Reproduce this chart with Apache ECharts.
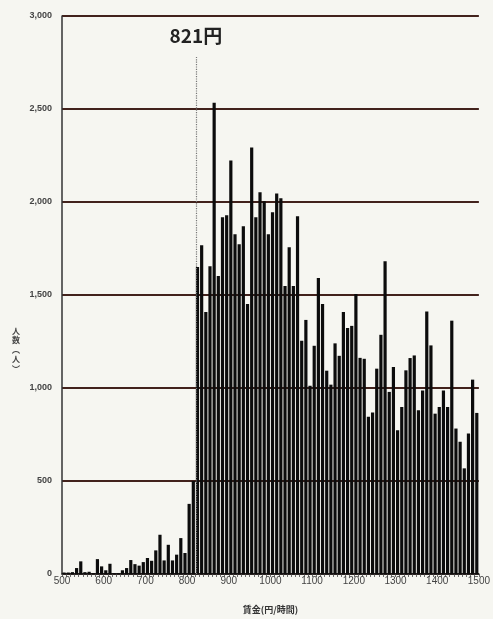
<!DOCTYPE html>
<html>
<head>
<meta charset="utf-8">
<script src="https://cdn.jsdelivr.net/npm/echarts@6/dist/echarts.min.js"></script>
<style>
html,body{margin:0;padding:0;background:#f6f6f1;}
#chart{width:493px;height:619px;}
</style>
</head>
<body>
<div id="chart"></div>
<script>
// Wage bins (lower edge, yen/hour) and number of people in each 10-yen bin
const binStarts = [
  500,510,520,530,540,550,560,570,580,590,
  600,610,620,630,640,650,660,670,680,690,
  700,710,720,730,740,750,760,770,780,790,
  800,810,820,830,840,850,860,870,880,890,
  900,910,920,930,940,950,960,970,980,990,
  1000,1010,1020,1030,1040,1050,1060,1070,1080,1090,
  1100,1110,1120,1130,1140,1150,1160,1170,1180,1190,
  1200,1210,1220,1230,1240,1250,1260,1270,1280,1290,
  1300,1310,1320,1330,1340,1350,1360,1370,1380,1390,
  1400,1410,1420,1430,1440,1450,1460,1470,1480,1490
];
const binWidth = 10;
const counts = [
  8,8,10,32,68,10,12,5,80,41,
  20,55,5,5,20,32,75,53,45,64,
  86,71,127,211,73,157,73,104,193,113,
  377,500,1650,1768,1409,1655,2534,1602,1918,1929,
  2223,1827,1773,1870,1452,2293,1918,2052,2004,1827,
  1945,2046,2020,1548,1757,1548,1923,1254,1366,1012,
  1227,1591,1452,1093,1018,1240,1173,1409,1323,1334,
  1505,1162,1157,846,868,1104,1286,1682,979,1113,
  773,898,1095,1161,1175,880,987,1411,1229,862,
  898,987,898,1362,782,711,568,755,1045,866
];
const xTicks = [500,600,700,800,900,1000,1100,1200,1300,1400,1500];
const yTicks = [0,500,1000,1500,2000,2500,3000];
const minWage = 821;
const minWageLabel = '821円';
const lineTop = 2780;
const xName = '賃金(円/時間)';
const yNameChars = ['人','数','︵','人','︶'];

const seriesData = binStarts.map((b, i) => [b + binWidth / 2, counts[i]]);

const chart = echarts.init(document.getElementById('chart'), null, {renderer: 'canvas'});
const font = '"Noto Sans CJK JP", "Noto Sans", sans-serif';
chart.setOption({
  backgroundColor: '#f6f6f1',
  animation: false,
  textStyle: {fontFamily: font},
  grid: {left: 62, right: 8, top: 16, bottom: 43},
  xAxis: {
    type: 'value',
    min: xTicks[0],
    max: xTicks[xTicks.length - 1],
    interval: 100,
    name: xName,
    nameLocation: 'middle',
    nameGap: 31,
    nameTextStyle: {fontSize: 9, fontWeight: 'bold', color: '#333', fontFamily: font},
    axisLine: {show: true, onZero: false, lineStyle: {color: '#222', width: 1.5}},
    axisTick: {show: true, length: 3, lineStyle: {color: '#444', width: 0.8}},
    minorTick: {show: true, splitNumber: 10, length: 3, lineStyle: {color: '#444', width: 0.8}},
    axisLabel: {
      fontSize: 10, color: '#444', margin: 2,
      fontFamily: '"Liberation Sans", sans-serif',
      formatter: v => String(v)
    },
    splitLine: {show: false}
  },
  yAxis: {
    type: 'value',
    min: yTicks[0],
    max: yTicks[yTicks.length - 1],
    interval: 500,
    axisLine: {show: true, lineStyle: {color: '#333', width: 1.5}},
    axisTick: {show: false},
    axisLabel: {
      fontSize: 9, color: '#444', margin: 10, fontWeight: 'bold',
      fontFamily: '"Liberation Sans", sans-serif',
      formatter: v => v.toLocaleString('en-US')
    },
    splitLine: {show: true, lineStyle: {color: '#42221c', width: 1.8}}
  },
  graphic: [{
    type: 'text',
    left: 12,
    top: 326,
    style: {
      text: yNameChars.join('\n'),
      font: 'bold 8px ' + font,
      fill: '#444',
      lineHeight: 9.5,
      align: 'center'
    }
  }],
  series: [{
    type: 'bar',
    data: seriesData,
    barWidth: 3.2,
    itemStyle: {color: '#0c0c0c'},
    markLine: {
      silent: true,
      symbol: 'none',
      lineStyle: {type: 'dotted', color: '#777', width: 1.2},
      label: {
        show: true,
        position: 'end',
        distance: 12,
        formatter: minWageLabel,
        fontSize: 19,
        fontWeight: 'bold',
        color: '#222',
        fontFamily: font
      },
      data: [[{coord: [minWage, 0]}, {coord: [minWage, lineTop]}]]
    }
  }]
});
</script>
</body>
</html>
